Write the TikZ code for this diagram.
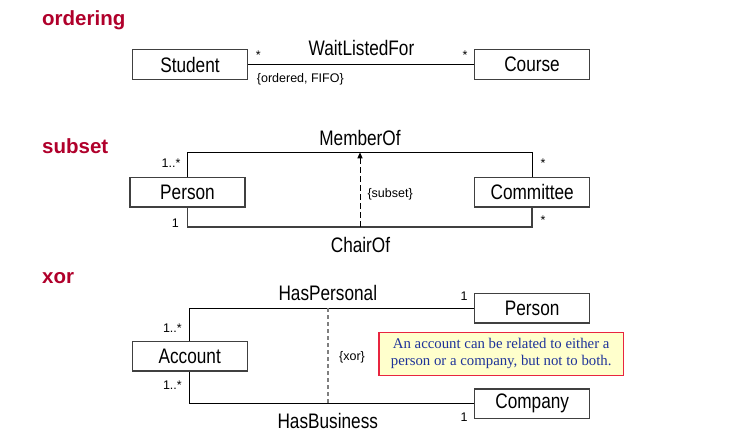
\documentclass[tikz,border=0pt]{standalone}
\usepackage{fontspec}
\setmainfont{Liberation Sans}
\newfontfamily\narrowfont{Liberation Sans}[FakeStretch=0.82]
\newfontfamily\notefont{Liberation Serif}
\usetikzlibrary{arrows.meta,calc}
\definecolor{titlered}{HTML}{B0002B}
\definecolor{boxline}{HTML}{404040}
\definecolor{notefill}{HTML}{FFFFCC}
\definecolor{noteline}{HTML}{E8253F}
\definecolor{noteink}{HTML}{1F3399}
\definecolor{xorgray}{HTML}{7F7F7F}

\begin{document}
\begin{tikzpicture}[x=1pt,y=-1pt,
  sectitle/.style={font=\bfseries\fontsize{20.5}{24}\selectfont,text=titlered,inner sep=0},
  cls/.style={draw=boxline,line width=1.4pt,minimum width=115pt,minimum height=29.6pt,inner sep=0,
    font=\narrowfont\fontsize{21}{24}\selectfont},
  assoc/.style={font=\narrowfont\fontsize{21}{24}\selectfont,inner sep=0},
  mult/.style={font=\fontsize{12.5}{14}\selectfont,inner sep=0},
  link/.style={line width=1pt},
  chairlink/.style={line width=1.6pt,black!75},
  subsetarrow/.style={line width=1pt,dash pattern=on 6pt off 3pt,-{Triangle[length=6pt,width=5pt]}},
  xordash/.style={line width=1.6pt,xorgray,dash pattern=on 4pt off 3pt},
  notebox/.style={draw=noteline,line width=1.3pt,fill=notefill,text=noteink,align=center,inner sep=0,
    minimum width=244.5pt,minimum height=43pt,font=\notefont\fontsize{14.8}{17.3}\selectfont}]
\useasboundingbox (0,0) rectangle (731,432);

% Section titles
\foreach \ttl/\yy in {ordering/25,subset/153,xor/283} {
  \node[sectitle,anchor=base west] (t-\ttl) at (42,\yy) {\ttl};
}

% ordering
\node[cls] (student) at (190,64.5) {Student};
\node[cls] (course) at (532,64.5) {Course};
\draw[link] (student) -- (course);
\node[assoc,anchor=base] (waitlisted) at (361.5,55) {WaitListedFor};
\node[mult,anchor=base] (student-m) at (258.3,59) {*};
\node[mult,anchor=base] (course-m) at (465,59) {*};
\node[mult,anchor=base west] (fifo) at (256.7,82.5) {\{ordered, FIFO\}};

% subset
\node[cls] (person) at (187.5,192) {Person};
\node[cls] (committee) at (532.2,192) {Committee};
\coordinate (membertop) at (360,152.3);
\coordinate (chairbot) at (360,226.7);
\draw[link] (person.north) |- (membertop) -| (committee.north);
\draw[chairlink] (person.south) |- (chairbot) -| (committee.south);
\draw[subsetarrow] (chairbot) -- (membertop);
\node[assoc,anchor=base] (memberof) at (360,145) {MemberOf};
\node[assoc,anchor=base] (chairof) at (360.5,252) {ChairOf};
\node[mult,anchor=base west] (subsetlbl) at (367.3,197.4) {\{subset\}};
\node[mult,anchor=base east] (person-m1) at (180.7,167.3) {1..*};
\node[mult,anchor=base east] (person-m2) at (179,227.3) {1};
\node[mult,anchor=base] (committee-m1) at (543,167) {*};
\node[mult,anchor=base] (committee-m2) at (543,224) {*};

% xor
\node[cls] (account) at (189.7,356) {Account};
\node[cls] (holder) at (532.2,308) {Person};
\node[cls] (company) at (532.2,403.7) {Company};
\draw[link] (account.north) |- (holder.west);
\draw[link] (account.south) |- (company.west);
\coordinate (xorx) at (327.7,0);
\draw[xordash] (holder.west -| xorx) -- (company.west -| xorx);
\node[assoc,anchor=base] (haspersonal) at (327.8,300) {HasPersonal};
\node[assoc,anchor=base] (hasbusiness) at (327.8,428) {HasBusiness};
\node[mult,anchor=base] (xorlbl) at (352,360.5) {\{xor\}};
\node[mult,anchor=base east] (account-m1) at (182,332.8) {1..*};
\node[mult,anchor=base east] (account-m2) at (182,389.5) {1..*};
\node[mult,anchor=base] (holder-m) at (464,300.5) {1};
\node[mult,anchor=base] (company-m) at (464,421) {1};
\node[notebox] (xornote) at (501.2,353.7) {An account can be related to either a\\person or a company, but not to both.};

\end{tikzpicture}
\end{document}
